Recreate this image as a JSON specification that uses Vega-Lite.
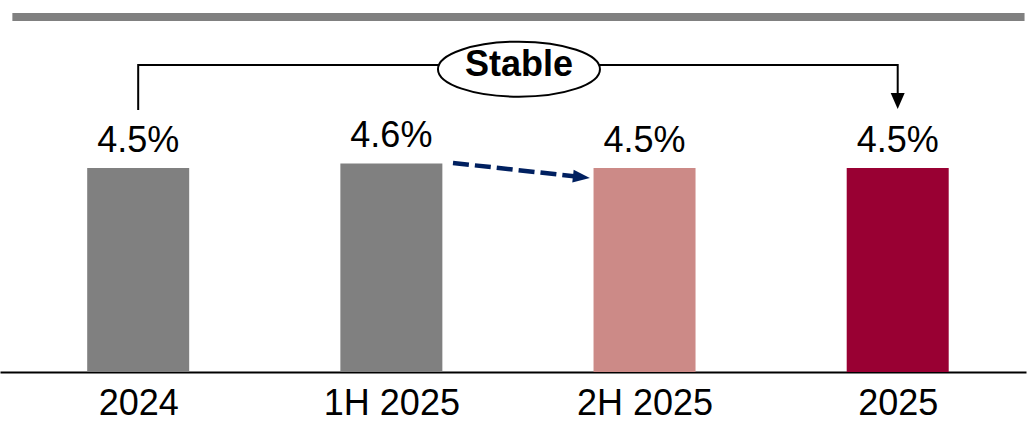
{
  "$schema": "https://vega.github.io/schema/vega-lite/v6.json",
  "width": 1026,
  "height": 372,
  "padding": {"left": 0, "top": 0, "right": 2, "bottom": 50},
  "autosize": {"type": "none"},
  "background": "white",
  "config": {"view": {"stroke": null}, "font": "Liberation Sans"},
  "datasets": {
    "bars": [
      {"i": 0, "period": "2024", "value": 4.5, "label": "4.5%", "kind": "a"},
      {"i": 1, "period": "1H 2025", "value": 4.6, "label": "4.6%", "kind": "a"},
      {"i": 2, "period": "2H 2025", "value": 4.5, "label": "4.5%", "kind": "b"},
      {"i": 3, "period": "2025", "value": 4.5, "label": "4.5%", "kind": "c"}
    ],
    "bracket": [
      {"o": 0, "x": 0, "y": 5.78},
      {"o": 1, "x": 0, "y": 6.773},
      {"o": 2, "x": 3, "y": 6.773},
      {"o": 3, "x": 3, "y": 6.0}
    ],
    "bracketHead": [{"x": 3, "y": 5.978}],
    "bubble": [{"x": 1.504, "y": 6.68, "text": "Stable", "ty": 6.53}],
    "dash": [{"x": 1.2434, "y": 4.611, "x2": 1.721, "y2": 4.319}],
    "dashHead": [{"x": 1.7507, "y": 4.302}],
    "topbar": [{"x": -0.497, "x2": 3.501, "y": 7.83}]
  },
  "layer": [
    {
      "data": {"name": "topbar"},
      "mark": {"type": "rule", "color": "#808080", "strokeWidth": 8, "strokeCap": "butt"},
      "encoding": {
        "x": {"field": "x", "type": "quantitative", "scale": {"domain": [-0.5261, 3.487], "nice": false, "zero": false}},
        "x2": {"field": "x2"},
        "y": {"field": "y", "type": "quantitative", "scale": {"domain": [0, 8.206], "nice": false, "zero": true}, "axis": null}
      }
    },
    {
      "data": {"name": "bars"},
      "mark": {"type": "bar", "width": 102},
      "encoding": {
        "x": {
          "field": "i", "type": "quantitative",
          "scale": {"domain": [-0.5261, 3.487], "nice": false, "zero": false},
          "axis": {
            "values": [0, 1, 2, 3],
            "labelExpr": "['2024','1H 2025','2H 2025','2025'][datum.value]",
            "title": null,
            "grid": false,
            "ticks": false,
            "tickSize": 0,
            "domainColor": "#000000",
            "domainWidth": 2,
            "labelFontSize": 36,
            "labelFont": "Liberation Sans",
            "labelColor": "#000000",
            "labelBaseline": "alphabetic",
            "labelPadding": 42,
            "labelFlush": false,
            "labelOverlap": false
          }
        },
        "y": {"field": "value", "type": "quantitative", "scale": {"domain": [0, 8.206], "nice": false, "zero": true}, "axis": null},
        "color": {
          "field": "kind", "type": "nominal",
          "scale": {"domain": ["a", "b", "c"], "range": ["#808080", "#CC8A87", "#990033"]},
          "legend": null
        }
      }
    },
    {
      "data": {"name": "bars"},
      "mark": {"type": "text", "baseline": "alphabetic", "align": "center", "dy": -16, "fontSize": 36, "font": "Liberation Sans", "color": "#000000"},
      "encoding": {
        "x": {"field": "i", "type": "quantitative"},
        "y": {"field": "value", "type": "quantitative"},
        "text": {"field": "label"}
      }
    },
    {
      "data": {"name": "bracket"},
      "mark": {"type": "line", "color": "#000000", "strokeWidth": 2, "strokeCap": "butt", "strokeJoin": "miter"},
      "encoding": {
        "x": {"field": "x", "type": "quantitative"},
        "y": {"field": "y", "type": "quantitative"},
        "order": {"field": "o"}
      }
    },
    {
      "data": {"name": "bracketHead"},
      "mark": {"type": "point", "shape": "M-0.875,-1L0.875,-1L0,1Z", "size": 256, "filled": true, "color": "#000000", "opacity": 1},
      "encoding": {
        "x": {"field": "x", "type": "quantitative"},
        "y": {"field": "y", "type": "quantitative"}
      }
    },
    {
      "data": {"name": "bubble"},
      "mark": {"type": "point", "shape": "M-1,0A1,0.34,0,1,1,1,0A1,0.34,0,1,1,-1,0Z", "size": 26244, "filled": true, "fill": "#ffffff", "stroke": "#000000", "strokeWidth": 2, "opacity": 1, "fillOpacity": 1},
      "encoding": {
        "x": {"field": "x", "type": "quantitative"},
        "y": {"field": "y", "type": "quantitative"}
      }
    },
    {
      "data": {"name": "bubble"},
      "mark": {"type": "text", "baseline": "alphabetic", "align": "center", "fontSize": 36, "fontWeight": "bold", "font": "Liberation Sans", "color": "#000000"},
      "encoding": {
        "x": {"field": "x", "type": "quantitative"},
        "y": {"field": "ty", "type": "quantitative"},
        "text": {"field": "text"}
      }
    },
    {
      "data": {"name": "dash"},
      "mark": {"type": "rule", "color": "#002060", "strokeWidth": 4.5, "strokeDash": [16, 6]},
      "encoding": {
        "x": {"field": "x", "type": "quantitative"},
        "y": {"field": "y", "type": "quantitative"},
        "x2": {"field": "x2"},
        "y2": {"field": "y2"}
      }
    },
    {
      "data": {"name": "dashHead"},
      "mark": {"type": "point", "shape": "M-1,-0.75L1,0L-1,0.75Z", "size": 289, "angle": 6.2, "filled": true, "color": "#002060", "opacity": 1},
      "encoding": {
        "x": {"field": "x", "type": "quantitative"},
        "y": {"field": "y", "type": "quantitative"}
      }
    }
  ]
}
